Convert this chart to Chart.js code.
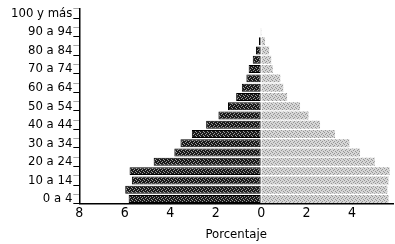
<!DOCTYPE html>
<html>
<head>
<meta charset="utf-8">
<script src="https://cdn.jsdelivr.net/npm/chart.js@4/dist/chart.umd.min.js"></script>
<style>
  html, body { margin: 0; padding: 0; background: #fff; }
  #wrap { width: 395px; height: 244px; }
</style>
</head>
<body>
<div id="wrap"><canvas id="piramide"></canvas></div>
<script>
// grupos de edad, de abajo hacia arriba
const grupos = ['0 a 4', '5 a 9', '10 a 14', '15 a 19', '20 a 24', '25 a 29', '30 a 34',
    '35 a 39', '40 a 44', '45 a 49', '50 a 54', '55 a 59', '60 a 64', '65 a 69',
    '70 a 74', '75 a 79', '80 a 84', '85 a 89', '90 a 94', '95 a 99', '100 y más'];

// porcentaje hombres (izquierda) y mujeres (derecha)
const hombres = [5.83, 5.98, 5.69, 5.79, 4.73, 3.82, 3.55, 3.05, 2.42, 1.88, 1.46,
    1.1, 0.85, 0.65, 0.55, 0.37, 0.23, 0.1, 0.03, 0, 0];
const mujeres = [5.6, 5.55, 5.6, 5.65, 5.0, 4.35, 3.88, 3.25, 2.59, 2.08, 1.71,
    1.14, 0.97, 0.84, 0.51, 0.44, 0.35, 0.17, 0.03, 0, 0];

const ticksX = [-8, -6, -4, -2, 0, 2, 4];

// trama punteada tipo impresión
function trama(fondo, punto) {
    const c = document.createElement('canvas');
    c.width = 4; c.height = 4;
    const g = c.getContext('2d');
    g.fillStyle = fondo;
    g.fillRect(0, 0, 4, 4);
    g.fillStyle = punto;
    [[0, 0], [2, 1], [1, 2], [3, 3]].forEach(p => g.fillRect(p[0], p[1], 1, 1));
    return g.createPattern(c, 'repeat');
}

const ctx = document.getElementById('piramide').getContext('2d');
const oscuro = trama('#1a1a1a', '#9a9a9a');
const claro = trama('#d6d6d6', '#959595');

new Chart(ctx, {
    type: 'bar',
    data: {
        labels: grupos,
        datasets: [
            {
                label: 'Hombres',
                data: hombres.map(v => -v),
                backgroundColor: oscuro,
                borderColor: '#000',
                borderWidth: 1,
                borderSkipped: false
            },
            {
                label: 'Mujeres',
                data: mujeres,
                backgroundColor: claro,
                borderWidth: 0
            }
        ]
    },
    options: {
        indexAxis: 'y',
        responsive: true,
        maintainAspectRatio: false,
        animation: false,
        layout: { padding: { left: 10, right: 2, top: 0, bottom: 2 } },
        plugins: { legend: { display: false }, tooltip: { enabled: false } },
        datasets: { bar: { barPercentage: 0.86, categoryPercentage: 1 } },
        scales: {
            x: {
                stacked: true,
                min: -8,
                max: 5.8,
                afterBuildTicks: axis => { axis.ticks = ticksX.map(v => ({ value: v })); },
                grid: { drawOnChartArea: false, tickLength: 1, color: '#000' },
                border: { color: '#000', width: 1.5 },
                ticks: {
                    color: '#000',
                    padding: 0,
                    font: { family: 'DejaVu Sans Condensed', size: 14 },
                    callback: v => Math.abs(v)
                },
                title: {
                    display: true,
                    text: 'Porcentaje',
                    color: '#000',
                    padding: { top: 5, bottom: 0 },
                    font: { family: 'DejaVu Sans Condensed', size: 13 }
                }
            },
            y: {
                stacked: true,
                reverse: true,
                grid: {
                    drawOnChartArea: false,
                    tickLength: 6,
                    tickColor: c => (c.index % 2 === 0 ? '#000' : 'rgba(0,0,0,0.35)')
                },
                border: { color: '#000', width: 1.5 },
                ticks: {
                    autoSkip: false,
                    color: '#000',
                    padding: 1,
                    font: { family: 'DejaVu Sans Condensed', size: 13 },
                    callback: function (v, i) { return i % 2 === 0 ? this.getLabelForValue(v) : ''; }
                }
            }
        }
    }
});
</script>
</body>
</html>
